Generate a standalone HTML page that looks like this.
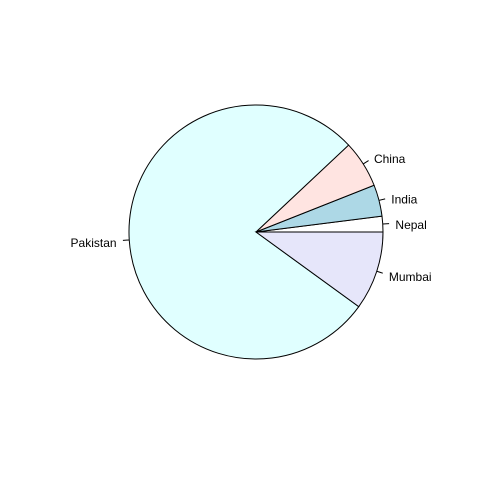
<!DOCTYPE html>
<html><head><meta charset="utf-8"><style>
html,body{margin:0;padding:0;background:#fff;}
svg{display:block;}
text{font-family:"Liberation Sans",Arial,sans-serif;font-size:12px;fill:#000;}
</style></head><body>
<svg id="chart" width="480" height="480"></svg>
<script>
const categories = ["Nepal","India","China","Pakistan","Mumbai"];
const values = [2,4,6,78,10];
const colors = ["#ffffff","#add8e6","#ffe4e1","#e0ffff","#e6e6fa"];
const cx=256, cy=232, r=127;
const svg=document.getElementById('chart');
const NS='http://www.w3.org/2000/svg';
const total=values.reduce((a,b)=>a+b,0);
function pt(a,rr){return [cx+rr*Math.cos(a), cy-rr*Math.sin(a)];}
let acc=0;
values.forEach((v,i)=>{
  const a0=acc/total*2*Math.PI; acc+=v; const a1=acc/total*2*Math.PI;
  const p0=pt(a0,r), p1=pt(a1,r);
  const large=(a1-a0)>Math.PI?1:0;
  const path=document.createElementNS(NS,'path');
  path.setAttribute('d',`M${cx},${cy}L${p0[0]},${p0[1]}A${r},${r} 0 ${large} 0 ${p1[0]},${p1[1]}Z`);
  path.setAttribute('fill',colors[i]);path.setAttribute('stroke','#000');path.setAttribute('stroke-width','1');
  
  
  svg.appendChild(path);
  const am=(a0+a1)/2;
  const q0=pt(am,r), q1=pt(am,r*1.05), q2=pt(am,r*1.1);
  const ln=document.createElementNS(NS,'line');
  ln.setAttribute('x1',q0[0]);ln.setAttribute('y1',q0[1]);ln.setAttribute('x2',q1[0]);ln.setAttribute('y2',q1[1]);
  ln.setAttribute('stroke','#000');
  
  
  svg.appendChild(ln);
  const t=document.createElementNS(NS,'text');
  t.setAttribute('x',q2[0]);t.setAttribute('y',q2[1]+6);
  t.setAttribute('text-anchor',Math.cos(am)>0?'start':'end');
  t.textContent=categories[i];
  
  
  svg.appendChild(t);
});
</script>
</body></html>
